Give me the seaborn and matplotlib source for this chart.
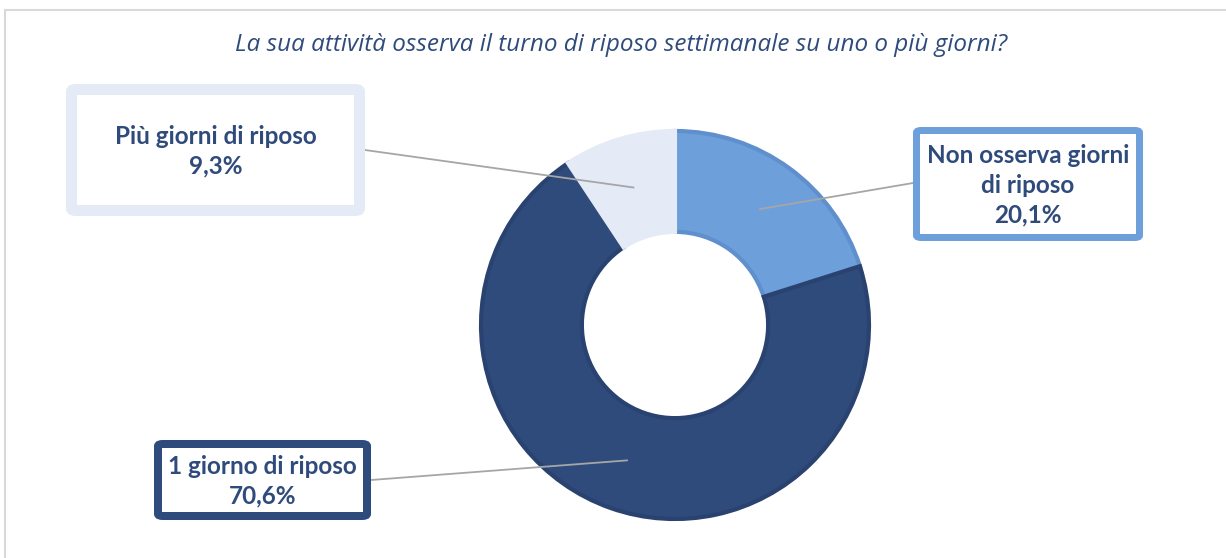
import numpy as np
import matplotlib.pyplot as plt
from matplotlib.patches import FancyBboxPatch, Rectangle
import seaborn as sns

# data
categories = ["Non osserva giorni\ndi riposo", "1 giorno di riposo", "Più giorni di riposo"]
values = [20.1, 70.6, 9.3]
value_labels = ["20,1%", "70,6%", "9,3%"]
colors = ["#6d9fdb", "#2f4b7c", "#e4eaf6"]
edge_colors = ["#5f8fcc", "#29426f", "#e4eaf6"]
title = "La sua attività osserva il turno di riposo settimanale su uno o più giorni?"

W, H = 1226, 558
DARK = "#2f4b7c"


def fx(x):
    return x / W


def fy(y):
    return 1 - y / H


def main():
    sns.set_theme(style="white")
    plt.rcParams["font.family"] = ["Lato", "DejaVu Sans"]

    fig = plt.figure(figsize=(W / 100, H / 100), dpi=100)
    fig.patch.set_facecolor("white")

    # outer frame (only top/left visible in the reference)
    fig.patches.append(Rectangle((fx(5), fy(H + 10)), fx(W + 20), 1, transform=fig.transFigure,
                                 fill=False, edgecolor="#d9d9d9", linewidth=1.5))

    # donut, centre (675, 325), radius 194 px
    cx, cy, r = 675, 325, 194
    ax = fig.add_axes([fx(cx - r), fy(cy + r), 2 * r / W, 2 * r / H])
    ax.axis("off")

    wedges, _ = ax.pie(values, colors=colors, startangle=90, counterclock=False, radius=1,
                       wedgeprops=dict(width=0.52, linewidth=0))
    for w, ec in zip(wedges, edge_colors):
        w.set_edgecolor(ec)
        w.set_linewidth(3)
    ax.set_xlim(-1, 1)
    ax.set_ylim(-1, 1)
    ax.set_aspect("equal")

    fig.text(fx(621), fy(45), title, ha="center", va="center", fontsize=17.5,
             style="italic", color=DARK, family=["Open Sans", "DejaVu Sans"])

    # label boxes: (x0, y0, x1, y1) outer pixels, border width px, border colour, line endpoint
    boxes = [
        ((913, 127, 1143, 241), 7, "#6d9fdb", (913, 183)),
        ((154, 440, 371, 520), 8, "#2f4b7c", (371, 480)),
        ((66, 84, 365, 216), 11, "#e4eaf6", (365, 150)),
    ]

    for w, cat, lab, (rect, bw, bc, end) in zip(wedges, categories, value_labels, boxes):
        mid = np.deg2rad((w.theta1 + w.theta2) / 2)
        anchor = (0.74 * np.cos(mid), 0.74 * np.sin(mid))
        ax.annotate("", xy=anchor, xycoords="data", xytext=(fx(end[0]), fy(end[1])),
                    textcoords="figure fraction",
                    arrowprops=dict(arrowstyle="-", color="#a6a6a6", linewidth=1.3,
                                    shrinkA=0, shrinkB=0))
        x0, y0, x1, y1 = rect
        h = bw / 2
        patch = FancyBboxPatch((fx(x0 + h), fy(y1 - h)), fx(x1 - x0 - bw), (y1 - y0 - bw) / H,
                               boxstyle="round,pad=0,rounding_size=0.004",
                               transform=fig.transFigure, facecolor="white",
                               edgecolor=bc, linewidth=bw * 0.72, zorder=3)
        fig.patches.append(patch)
        fig.text(fx((x0 + x1) / 2), fy((y0 + y1) / 2 + 1), f"{cat}\n{lab}", ha="center",
                 va="center", fontsize=17.5, fontweight="bold", color=DARK,
                 linespacing=1.35, zorder=4)

    fig.savefig("out.png", dpi=100)
    plt.close(fig)


if __name__ == "__main__":
    main()
